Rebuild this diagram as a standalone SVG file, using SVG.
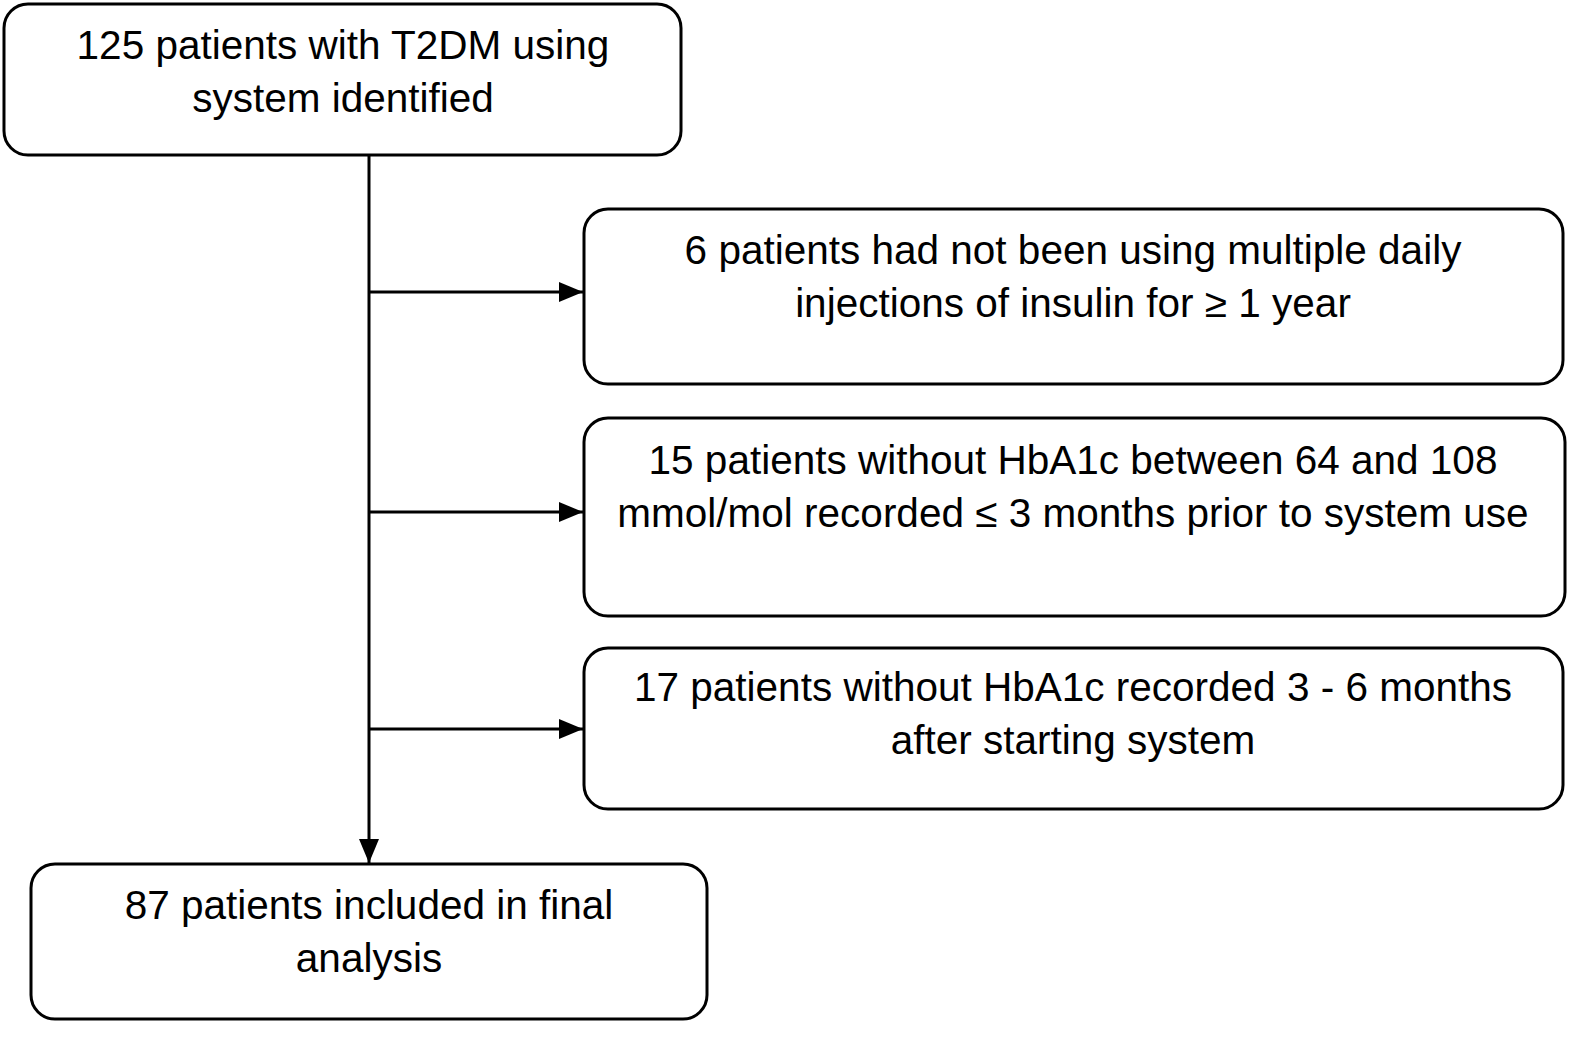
<svg xmlns="http://www.w3.org/2000/svg" width="1594" height="1042" viewBox="0 0 1594 1042">
<style>
.box{fill:#fff;stroke:#000;stroke-width:3}
.t{font-family:"Liberation Sans",Arial,sans-serif;font-size:40.5px;fill:#000;text-anchor:middle}
.c{stroke:#000;stroke-width:3;fill:none}
</style>
<defs>
<marker id="b" markerWidth="24" markerHeight="20" refX="24" refY="10" orient="auto" markerUnits="userSpaceOnUse" viewBox="0 0 24 20"><path d="M0,0 L24,10 L0,20 z" fill="#000"/></marker></defs>
<rect width="1594" height="1042" fill="#fff"/>
<g id="connectors">
<line class="c" x1="369" y1="155" x2="369" y2="863" marker-end="url(#b)"/>
<line class="c" x1="369" y1="292" x2="583" y2="292" marker-end="url(#b)"/>
<line class="c" x1="369" y1="512" x2="583" y2="512" marker-end="url(#b)"/>
<line class="c" x1="369" y1="729" x2="583" y2="729" marker-end="url(#b)"/>
</g>
<g id="n1"><rect class="box" x="4" y="4" width="677" height="151" rx="24"/>
<text class="t" x="343" y="59">125 patients with T2DM using</text><text class="t" x="343" y="112">system identified</text></g>
<g id="n2"><rect class="box" x="584" y="209" width="979" height="175" rx="24"/>
<text class="t" x="1073" y="264">6 patients had not been using multiple daily</text><text class="t" x="1073" y="317">injections of insulin for ≥ 1 year</text></g>
<g id="n3"><rect class="box" x="584" y="418" width="981" height="198" rx="24"/>
<text class="t" x="1073" y="474">15 patients without HbA1c between 64 and 108</text><text class="t" x="1073" y="527">mmol/mol recorded ≤ 3 months prior to system use</text></g>
<g id="n4"><rect class="box" x="584" y="648" width="979" height="161" rx="24"/>
<text class="t" x="1073" y="701">17 patients without HbA1c recorded 3 - 6 months</text><text class="t" x="1073" y="754">after starting system</text></g>
<g id="n5"><rect class="box" x="31" y="864" width="676" height="155" rx="24"/>
<text class="t" x="369" y="919">87 patients included in final</text><text class="t" x="369" y="972">analysis</text></g>
</svg>
